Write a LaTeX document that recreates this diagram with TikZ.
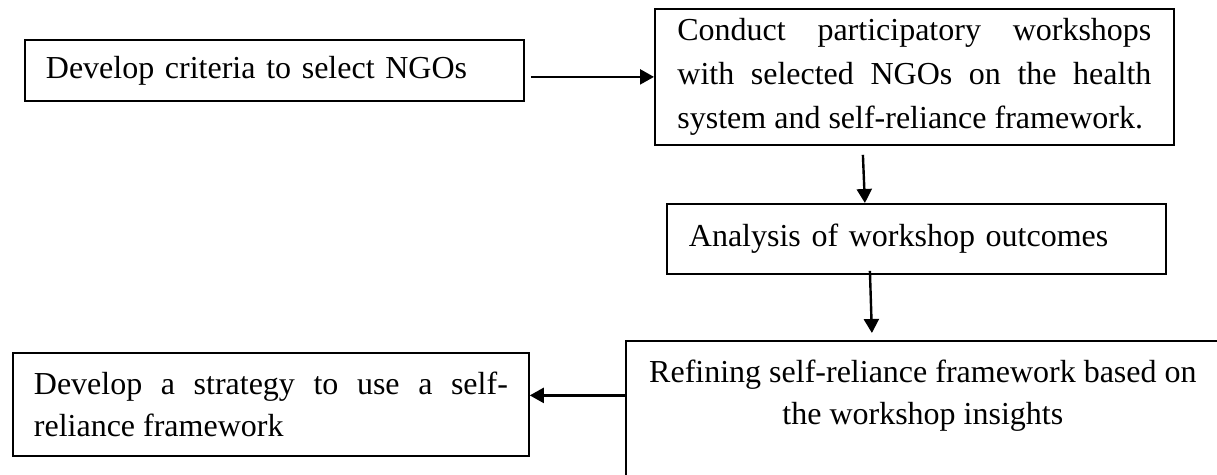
\documentclass[tikz,border=0pt]{standalone}
\usepackage{fontspec}
\setmainfont{Liberation Serif}
\usetikzlibrary{arrows.meta}

\begin{document}
\sloppy
\begin{tikzpicture}[x=0.5pt,y=-0.5pt,
  stepbox/.style={draw, line width=0.9pt, anchor=north west, inner ysep=0pt,
    font=\fontsize{16}{21}\selectfont},
  flow/.style={line width=1.2pt, -{Triangle[length=7pt,width=7.5pt]}}]
\useasboundingbox (0,0) rectangle (1217,475);
\clip (0,0) rectangle (1217,475);

% boxes
\node[stepbox, minimum width=249.5pt, minimum height=30.5pt, inner xsep=10.5pt,
  text width=228.5pt, align=left] (criteria) at (24,39) {Develop criteria to select NGOs};
\node[stepbox, font=\fontsize{16}{22}\selectfont, minimum width=259.5pt, minimum height=68pt,
  inner xsep=11.25pt, text width=237pt, align=justify] (workshops) at (654,8)
  {Conduct participatory workshops with selected NGOs on the health system and self-reliance framework.};
\node[stepbox, minimum width=249.5pt, minimum height=35pt, inner xsep=11pt,
  text width=227.5pt, align=left] (analysis) at (666,203) {Analysis of workshop outcomes};
\node[stepbox, minimum width=297pt, minimum height=72.5pt, align=center] (refine) at (625,340)
  {Refining self-reliance framework based on\\the workshop insights\\~};
\node[stepbox, minimum width=258pt, minimum height=51.5pt, inner xsep=10.5pt,
  text width=237pt, align=justify] (strategy) at (12,352)
  {Develop a strategy to use a self-reliance framework};

% arrows
\path ([xshift=3pt]criteria.east) coordinate (c1);
\draw[flow] (c1 |- workshops.west) -- (workshops.west);
\draw[flow] ([xshift=-25.75pt,yshift=-4.5pt]workshops.south) -- ([xshift=-25.75pt]analysis.north);
\draw[flow] ([xshift=-23.25pt,yshift=2pt]analysis.south) -- ([xshift=-25.5pt,yshift=3.5pt]refine.north);
\path ([yshift=9pt]refine.west) coordinate (r1);
\draw[flow] (r1) -- (r1 -| strategy.east);
\end{tikzpicture}
\end{document}
